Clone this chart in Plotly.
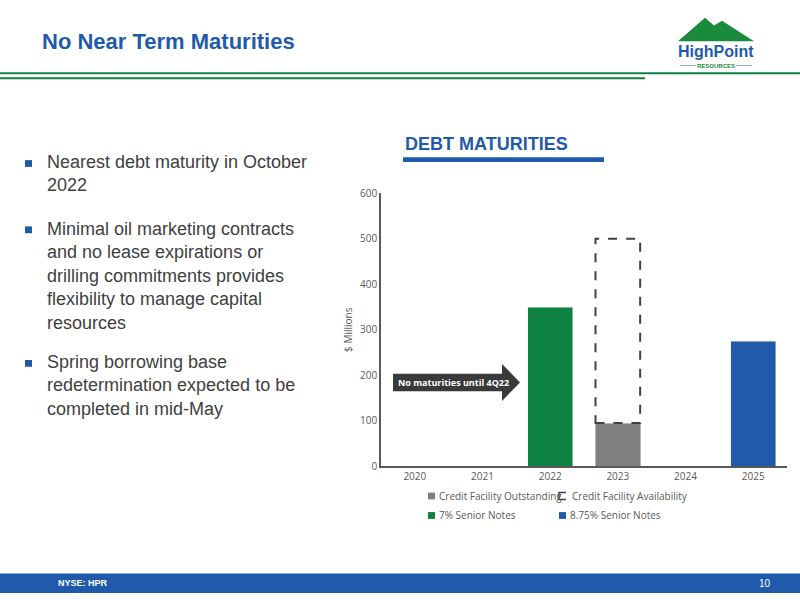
import plotly.graph_objects as go

years = ["2020", "2021", "2022", "2023", "2024", "2025"]
cf_outstanding = [None, None, None, 95, None, None]
cf_availability = [None, None, None, 405, None, None]
senior_7 = [None, None, 350, None, None, None]
senior_875 = [None, None, None, None, None, 275]
y_ticks = [0, 100, 200, 300, 400, 500, 600]

W, H = 800, 600
def px(x): return x / W
def py(y): return 1 - y / H

fig = go.Figure()
fig.add_bar(x=years, y=cf_outstanding, marker_color="#808080", name="Credit Facility Outstanding")
fig.add_bar(x=years, y=cf_availability, marker=dict(color="rgba(0,0,0,0)", line=dict(color="rgba(0,0,0,0)", width=0)),
            name="Credit Facility Availability")
fig.add_bar(x=years, y=senior_7, marker_color="#0E8341", name="7% Senior Notes")
fig.add_bar(x=years, y=senior_875, marker_color="#1F5BAA", name="8.75% Senior Notes")

font = "Open Sans, Calibri, sans-serif"
fig.update_layout(
    width=W, height=H, margin=dict(l=0, r=0, t=0, b=0), barmode="stack", bargap=0.33,
    plot_bgcolor="white", paper_bgcolor="white", showlegend=False,
    xaxis=dict(domain=[px(381), px(787)], showline=True, linecolor="#595959", linewidth=1.5,
               tickfont=dict(family=font, size=10, color="#595959"), ticks=""),
    yaxis=dict(domain=[py(470), py(190)], range=[0, 600], tickvals=y_ticks, showgrid=False,
               showline=True, linecolor="#595959", linewidth=1.5, zeroline=False,
               tickfont=dict(family=font, size=10, color="#595959"),
               title=dict(text="$ Millions", font=dict(family=font, size=10, color="#595959"), standoff=6)),
)

shapes = []
shapes.append(dict(type="rect", xref="x", yref="y", x0=2.67, x1=3.33, y0=95, y1=500,
                   line=dict(color="#404040", width=2, dash="dash"), fillcolor="rgba(0,0,0,0)", layer="above"))
shapes.append(dict(type="line", xref="paper", yref="paper", x0=0, x1=1, y0=py(67), y1=py(67), line=dict(color="#0E8341", width=2)))
shapes.append(dict(type="line", xref="paper", yref="paper", x0=0, x1=px(645), y0=py(72), y1=py(72), line=dict(color="#0E8341", width=2)))
shapes.append(dict(type="rect", xref="paper", yref="paper", x0=0, x1=1, y0=0, y1=py(580), fillcolor="#1F5BAA", line_width=0))
shapes.append(dict(type="rect", xref="paper", yref="paper", x0=px(403), x1=px(604), y0=py(158), y1=py(153), fillcolor="#1F5BAA", line_width=0))
path = "M {} {} L {} {} L {} {} L {} {} L {} {} L {} {} L {} {} Z".format(
    px(393), py(375), px(502), py(375), px(502), py(365), px(520), py(384),
    px(502), py(403), px(502), py(393), px(393), py(393))
shapes.append(dict(type="path", xref="paper", yref="paper", path=path, fillcolor="#3A3A3A", line_width=0))
for yb in [160, 228, 365]:
    shapes.append(dict(type="rect", xref="paper", yref="paper", x0=px(25), x1=px(32), y0=py(yb + 3), y1=py(yb - 4),
                       fillcolor="#1F5BAA", line_width=0))
shapes.append(dict(type="rect", xref="paper", yref="paper", x0=px(428), x1=px(435), y0=py(504), y1=py(497), fillcolor="#808080", line_width=0))
shapes.append(dict(type="path", xref="paper", yref="paper",
                   path="M {} {} L {} {} L {} {} L {} {}".format(px(566), py(497), px(559), py(497), px(559), py(504), px(566), py(504)),
                   line=dict(color="#404040", width=1.5)))
shapes.append(dict(type="rect", xref="paper", yref="paper", x0=px(428), x1=px(435), y0=py(524), y1=py(517), fillcolor="#0E8341", line_width=0))
shapes.append(dict(type="rect", xref="paper", yref="paper", x0=px(559), x1=px(566), y0=py(524), y1=py(517), fillcolor="#1F5BAA", line_width=0))
logo = "M {} {} L {} {} L {} {} L {} {} L {} {} Z".format(
    px(678), py(34), px(705), py(10), px(714), py(18), px(722), py(13), px(754), py(34))
shapes.append(dict(type="path", xref="paper", yref="paper", path=logo, fillcolor="#1A8A3C", line_width=0))
shapes.append(dict(type="line", xref="paper", yref="paper", x0=px(680), x1=px(752), y0=py(59), y1=py(59), line=dict(color="#8FA8D0", width=1)))
fig.update_layout(shapes=shapes)

def ann(x, y, text, size, color, anchor="left", bold=False, fam="Liberation Sans, Arial, sans-serif", yanchor="middle", bg=None):
    fig.add_annotation(xref="paper", yref="paper", x=px(x), y=py(y), text=f"<b>{text}</b>" if bold else text,
                       showarrow=False, xanchor=anchor, yanchor=yanchor, align="left", bgcolor=bg,
                       font=dict(family=fam, size=size, color=color))

ann(40, 34, "No Near Term Maturities", 22, "#1F5BAA", bold=True)
ann(403, 139, "DEBT MATURITIES", 18, "#1F5BAA", bold=True)
paras = [(146, "Nearest debt maturity in October<br>2022"),
         (214, "Minimal oil marketing contracts<br>and no lease expirations or<br>drilling commitments provides<br>flexibility to manage capital<br>resources"),
         (351, "Spring borrowing base<br>redetermination expected to be<br>completed in mid-May")]
for y, t in paras:
    ann(45, y, t, 18, "#404040", yanchor="top")
ann(396, 384, "No maturities until 4Q22", 9, "white", bold=True, fam=font)
ann(437, 500, "Credit Facility Outstanding", 10, "#595959", fam=font)
ann(570, 500, "Credit Facility Availability", 10, "#595959", fam=font)
ann(437, 520, "7% Senior Notes", 10, "#595959", fam=font)
ann(568, 520, "8.75% Senior Notes", 10, "#595959", fam=font)
ann(56, 590, "NYSE: HPR", 9, "white", bold=True)
ann(773, 590, "10", 10, "white", anchor="right")
ann(716, 45, "HighPoint", 16, "#1F5BAA", anchor="center", bold=True)
ann(716, 59, "RESOURCES", 6, "#1A8A3C", anchor="center", bold=True, bg="white")

fig.write_html("out.html", config={"displayModeBar": False},
               post_script="document.body.style.margin='0';document.body.style.overflow='hidden';")
